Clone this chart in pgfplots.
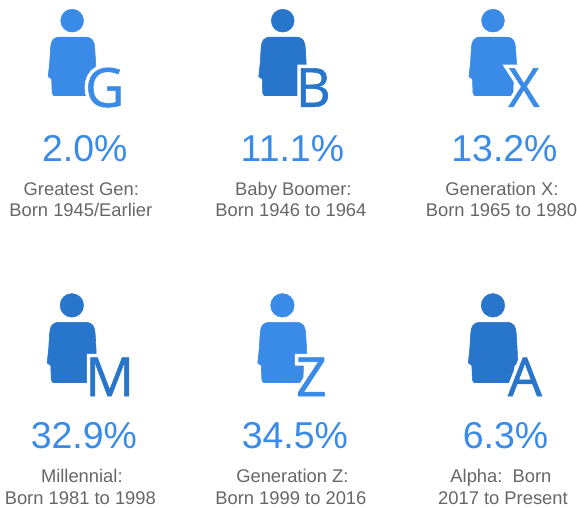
\documentclass[border=0pt]{standalone}
\usepackage{fontspec}
\setmainfont{Liberation Sans}
\newfontfamily\letterfont[FakeBold=1]{Open Sans}
\newfontfamily\halofont[FakeBold=14]{Open Sans}
\usepackage{pgfplots}
\usepackage{pgfplotstable}
\pgfplotsset{compat=1.18}
\definecolor{lightblue}{HTML}{3A8BE8}
\definecolor{darkblue}{HTML}{2875CC}
\definecolor{greytext}{HTML}{666666}

% body outline, relative to the centre of the head (pixels, y down)
\pgfplotstableread{
x y
-14 16.5
-17 17.5
-19.5 19.5
-21 23
-21.6 27
-22.5 42
-24 56
-20.5 58.5
-20 72.5
-18.5 75
18.5 75
20 72.5
20.5 58.5
24 56
23.5 42
22.6 27
22 23
20.5 19.5
18 17.5
15 16.5
}\bodyshape

\pgfplotstableread[col sep=comma]{
x,y,label
85,162,{2.0\%}
293,162,{11.1\%}
505.5,162,{13.2\%}
84,449,{32.9\%}
295.5,449,{34.5\%}
506.5,449,{6.3\%}
}\percents

\pgfplotstableread[col sep=comma]{
x,y,label
81.5,196,{Greatest Gen:}
81,217,{Born 1945/Earlier}
294,196,{Baby Boomer:}
291.5,217,{Born 1946 to 1964}
503,196,{Generation X:}
502.5,217,{Born 1965 to 1980}
82,484,{Millennial:}
80.5,506,{Born 1981 to 1998}
293,484,{Generation Z:}
291.5,506,{Born 1999 to 2016}
502,484,{Alpha:\ \ Born}
504,506,{2017 to Present}
}\captions

% #1 x of head, #2 y of head, #3 colour, #4 letter, #5 letter x, #6 letter y, #7 icon scale
\newcommand{\person}[7]{
  \addplot[only marks, mark=*, mark size=11.5*#7 pt, color=#3] coordinates {(#1,#2)};
  \addplot[fill=#3, draw=#3, line join=round, line width=0.6pt]
    table[x expr=#7*\thisrow{x}+#1, y expr=#7*\thisrow{y}+#2] {\bodyshape} -- cycle;
  \addplot[only marks, mark=none, point meta=explicit symbolic, nodes near coords,
    nodes near coords align={anchor=base},
    every node near coord/.append style={inner sep=0pt, text=white, font=\fontsize{54}{54}\selectfont\halofont}]
    coordinates {(#5,#6) [#4]};
  \addplot[only marks, mark=none, point meta=explicit symbolic, nodes near coords,
    nodes near coords align={anchor=base},
    every node near coord/.append style={inner sep=0pt, text=#3, font=\fontsize{54}{54}\selectfont\letterfont}]
    coordinates {(#5,#6) [#4]};
}

\begin{document}
\begin{tikzpicture}
\begin{axis}[
  hide axis, scale only axis, width=577pt, height=509pt,
  xmin=0, xmax=577, ymin=0, ymax=509, y dir=reverse, clip=false]

\person{72.3}{20.7}{lightblue}{G}{105}{107}{1}
\person{283.3}{20.7}{darkblue}{B}{314}{107}{1}
\person{494}{20.7}{lightblue}{X}{525}{107}{1}
\person{72}{306}{darkblue}{M}{110}{397}{1.03}
\person{283}{306}{lightblue}{Z}{312}{397}{1.03}
\person{494}{306}{darkblue}{A}{526}{397}{1.03}

\addplot[only marks, mark=none, point meta=explicit symbolic, nodes near coords,
  nodes near coords align={anchor=base},
  every node near coord/.append style={inner sep=0pt, text=lightblue, font=\fontsize{37.5}{37.5}\selectfont}]
  table[meta=label] {\percents};
\addplot[only marks, mark=none, point meta=explicit symbolic, nodes near coords,
  nodes near coords align={anchor=base},
  every node near coord/.append style={inner sep=0pt, text=greytext, font=\fontsize{18.4}{20}\selectfont}]
  table[meta=label] {\captions};

\path[use as bounding box] (axis cs:0,0) rectangle (axis cs:577,509);
\end{axis}
\end{tikzpicture}
\end{document}
